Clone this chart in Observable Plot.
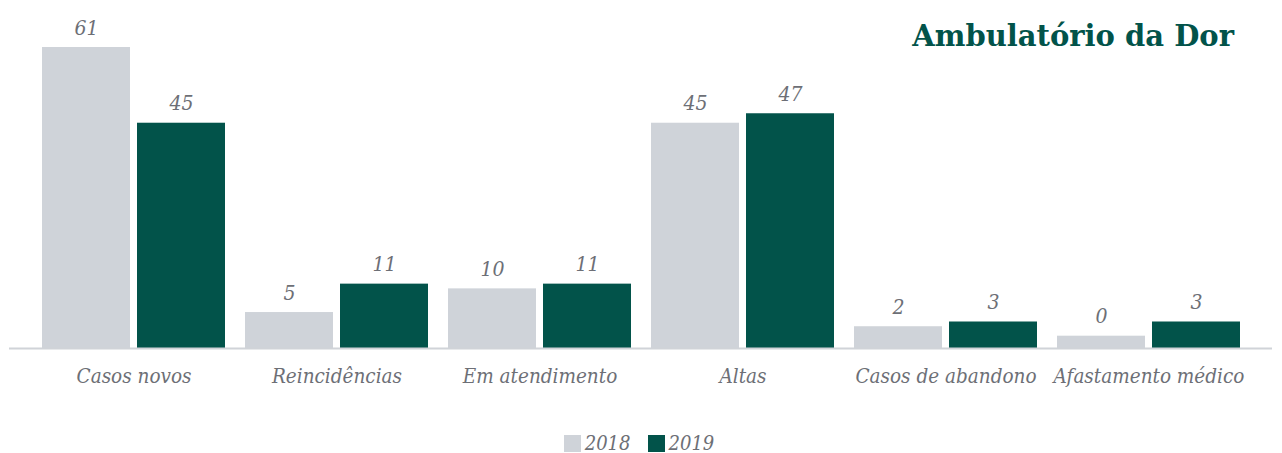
<!DOCTYPE html>
<html><head><meta charset="utf-8">
<script src="https://cdn.jsdelivr.net/npm/d3@7"></script>
<script src="https://cdn.jsdelivr.net/npm/@observablehq/plot@0.6"></script>
<style>
body{margin:0;background:#fff;}
#wrap{position:relative;width:1282px;}
#chart svg{display:block;}
#title{position:absolute;right:48px;top:22px;font:bold 29px/29px "DejaVu Serif";color:#02534a;white-space:nowrap;}
#legend{display:flex;justify-content:center;align-items:center;gap:17px;margin-top:23px;font:italic 20px/20px "DejaVu Serif Condensed","DejaVu Serif";color:#6d6f76;padding-right:4px;}
#legend .item{display:flex;align-items:center;gap:4px;}
#legend .sw{width:17px;height:17px;display:inline-block;}
</style></head><body>
<div id="wrap"><div id="chart"></div><div id="legend"></div><div id="title">Ambulatório da Dor</div></div>
<script>
const categories = ["Casos novos","Reincidências","Em atendimento","Altas","Casos de abandono","Afastamento médico"];
const years = ["2018","2019"];
const values2018 = [61,5,10,45,2,0];
const values2019 = [45,11,11,47,3,3];
const colors = ["#cfd3d9","#02534a"];
const yMin = -2.6;
const yMax = 61;

const data = categories.flatMap((c,i)=>[
  {category:c, year:years[0], value:values2018[i]},
  {category:c, year:years[1], value:values2019[i]}
]);

const font = '"DejaVu Serif Condensed","DejaVu Serif"';
const chart = Plot.plot({
  width:1282, height:410,
  marginLeft:9, marginRight:10, marginTop:47, marginBottom:62,
  style:{fontSize:"20.5px", fontFamily:font, fontStyle:"italic", color:"#6d6f76", background:"#fff"},
  fx:{domain:categories, paddingInner:0.1, paddingOuter:0.155, axis:"bottom", tickSize:0, tickPadding:20, label:null},
  x:{domain:years, paddingInner:0.075, paddingOuter:0, axis:null},
  y:{domain:[yMin,yMax], axis:null},
  color:{domain:years, range:colors},
  marks:[
    Plot.barY(data,{fx:"category", x:"year", y1:yMin, y2:"value", fill:"year"}),
    Plot.text(data,{fx:"category", x:"year", y:"value", text:d=>String(d.value), dy:-13, lineAnchor:"bottom", fill:"#6d6f76", fontSize:21, fontStyle:"italic", fontFamily:font})
  ]
});
document.getElementById("chart").appendChild(chart);

// baseline across the full width, positioned with the plot's own scales
const ys = chart.scale("y").apply(yMin);
const fxr = chart.scale("fx").range;
d3.select(chart).append("line")
  .attr("x1", fxr[0]).attr("x2", fxr[1])
  .attr("y1", ys + 0.5).attr("y2", ys + 0.5)
  .attr("stroke", "#d0d3d8").attr("stroke-width", 2);

// legend
const cs = chart.scale("color");
const leg = d3.select("#legend");
cs.domain.forEach((y,i)=>{
  const it = leg.append("div").attr("class","item");
  it.append("span").attr("class","sw").style("background", cs.range[i]);
  it.append("span").text(y);
});
</script>
</body></html>
